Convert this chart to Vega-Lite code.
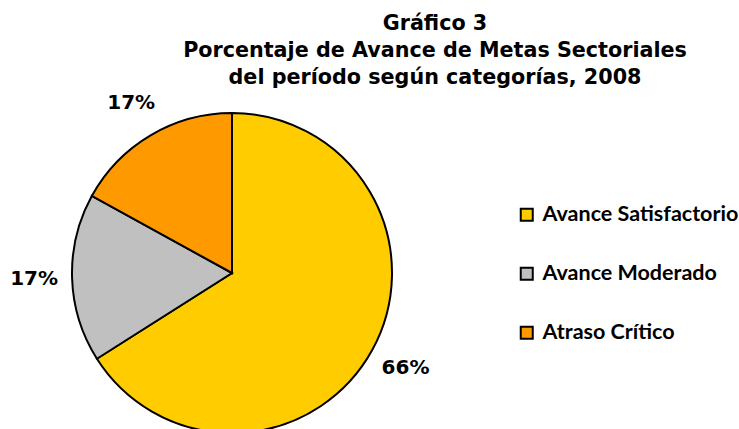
{
  "$schema": "https://vega.github.io/schema/vega-lite/v6.json",
  "autosize": "none",
  "width": 464,
  "height": 312,
  "padding": {"top": 117, "left": 0, "right": 275, "bottom": 0},
  "background": "white",
  "title": {
    "text": ["Gráfico 3", "Porcentaje de Avance de Metas Sectoriales", "del período según categorías, 2008"],
    "font": "DejaVu Sans",
    "fontSize": 20.7,
    "fontWeight": "bold",
    "color": "black",
    "anchor": "middle",
    "frame": "group",
    "dx": 203,
    "offset": 4,
    "lineHeight": 27
  },
  "data": {
    "values": [
      {"categoria": "Avance Satisfactorio", "valor": 66, "etiqueta": "66%", "orden": 0},
      {"categoria": "Avance Moderado", "valor": 17, "etiqueta": "17%", "orden": 1},
      {"categoria": "Atraso Crítico", "valor": 17, "etiqueta": "17%", "orden": 2}
    ]
  },
  "encoding": {
    "theta": {"field": "valor", "type": "quantitative", "stack": true},
    "order": {"field": "orden", "type": "quantitative"}
  },
  "layer": [
    {
      "mark": {"type": "arc", "outerRadius": 160, "stroke": "black", "strokeWidth": 2},
      "encoding": {
        "color": {
          "field": "categoria",
          "type": "nominal",
          "sort": ["Avance Satisfactorio", "Avance Moderado", "Atraso Crítico"],
          "scale": {
            "domain": ["Avance Satisfactorio", "Avance Moderado", "Atraso Crítico"],
            "range": ["#FFCC00", "#C0C0C0", "#FF9900"]
          },
          "legend": {
            "title": null,
            "orient": "none",
            "legendX": 516,
            "legendY": 87,
            "symbolType": "square",
            "symbolSize": 144,
            "symbolStrokeColor": "black",
            "symbolStrokeWidth": 2,
            "labelFont": "Lato",
            "labelFontWeight": "bold",
            "labelFontSize": 21.5,
            "labelColor": "black",
            "labelOffset": 5,
            "rowPadding": 36,
            "labelLimit": 300
          }
        }
      }
    },
    {
      "mark": {"type": "text", "radius": 198, "font": "DejaVu Sans", "fontWeight": "bold", "fontSize": 20, "color": "black"},
      "encoding": {
        "text": {"field": "etiqueta", "type": "nominal"}
      }
    }
  ]
}
